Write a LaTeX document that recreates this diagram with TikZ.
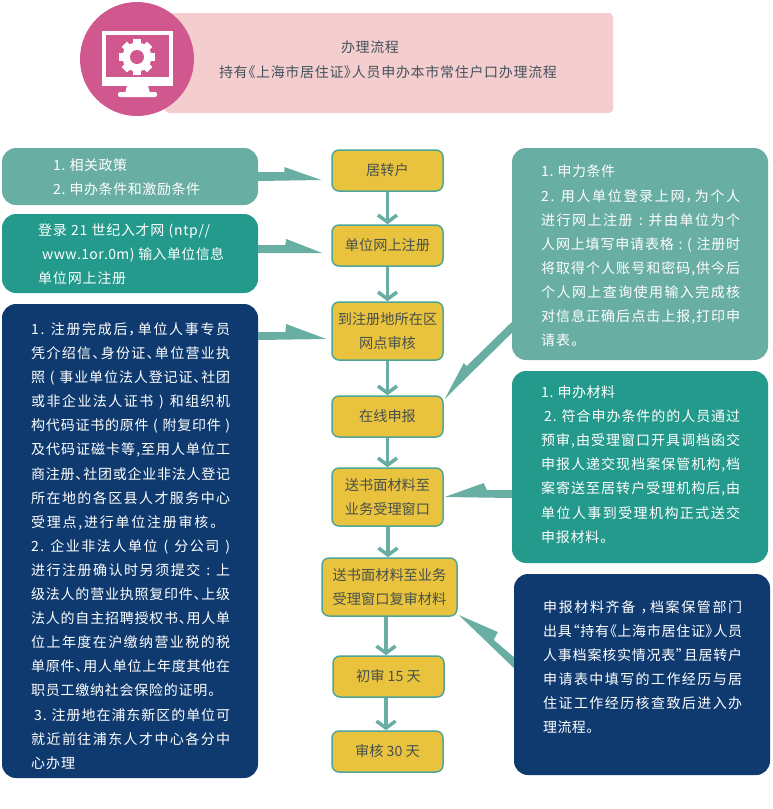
\documentclass[tikz,border=0pt]{standalone}
\usepackage{fontspec}
\setmainfont[RawFeature={+palt}]{Noto Sans CJK SC}
\usetikzlibrary{arrows.meta,calc}
\definecolor{cTealL}{HTML}{69AEA3}
\definecolor{cTealD}{HTML}{239A8C}
\definecolor{cNavy}{HTML}{0E3A70}
\definecolor{cPink}{HTML}{F4CECE}
\definecolor{cRose}{HTML}{D1588F}
\definecolor{cGold}{HTML}{EAC33E}
\definecolor{cEdge}{HTML}{4FA596}
\definecolor{cInk}{HTML}{46504C}
\definecolor{cHead}{HTML}{44525C}
\newcommand{\xsp}{\kern3pt}
\ExplSyntaxOn
\tl_new:N \l_spreadline_tl
\NewDocumentCommand{\fitline}{m m}{
  \tl_set:Nn \l_spreadline_tl {#2}
  \tl_replace_all:Nnn \l_spreadline_tl {~} {\xsp}
  \hbox to #1 {\tl_map_inline:Nn \l_spreadline_tl {##1\hfil}\hskip 0pt plus -1fil\relax}
}
\ExplSyntaxOff
\newcommand{\jl}[1]{\fitline{199pt}{#1}}
\newcommand{\wedgeArrow}[8]{%
  \fill[wedgefill] ($(#1)+#2$) -- ($(#4)+#6$) -- ($(#4)+#7$) -- ($(#4)+#8$) -- ($(#1)+#3$) -- cycle;}
\tikzset{
  x=1pt,y=-1pt,
  panel/.style={rounded corners=14pt,minimum width=#1,inner sep=0pt},
  stage/.style={draw=cEdge,fill=cGold,line width=1.5pt,rounded corners=7pt,inner sep=0pt,
    text=cInk,align=center,font=\fontsize{14.2}{24}\selectfont},
  paneltext/.style={text=white,align=left,inner sep=0pt,anchor=west,font=\fontsize{14}{24.1}\selectfont},
  headtext/.style={text=cHead,align=center,inner sep=0pt,font=\fontsize{14}{25}\selectfont},
  flow/.style={draw=cTealL,line width=3.5pt,-{Straight Barb[length=7pt,width=19pt]}},
  wedgefill/.style={fill=cTealL},
}
\begin{document}
\begin{tikzpicture}
\useasboundingbox (0,0) rectangle (772,809);
% header
\node[fill=cPink,rounded corners=4pt,minimum width=448pt,minimum height=100pt,inner sep=0pt] (hd) at (389,63) {};
\node[headtext] (hdt) at (388,59.5) {\hspace*{-36pt}\fitline{58pt}{办理流程}\\\fitline{338pt}{持有《上海市居住证》人员申办本市常住户口办理流程}};
\node[circle,fill=cRose,minimum size=114pt,inner sep=0pt] (ic) at (137,59) {};
\fill[white] (102,31) rectangle (173,86);
\fill[cRose] (106,35) rectangle (169,77);
\fill[white] (127,86) -- (148,86) -- (150,93) -- (125,93) -- cycle;
\fill[white,rounded corners=2pt] (118,92) rectangle (157,97);
\foreach \a in {0,45,...,315}{
  \fill[white,shift={(137,57)},rotate=\a] (-3.8,-18) rectangle (3.8,0);
}
\fill[white] (137,57) circle[radius=14.5pt];
\fill[cRose] (137,57) circle[radius=7pt];
% stages
\node[stage,minimum width=111pt,minimum height=41pt] (y1) at (387.5,170.5) {居转户};
\node[stage,minimum width=111pt,minimum height=41pt] (y2) at (387.5,245.5) {单位网上注册};
\node[stage,minimum width=111pt,minimum height=58pt] (y3) at (387.5,331) {到注册地所在区\\网点审核};
\node[stage,minimum width=111pt,minimum height=41pt] (y4) at (387.5,416.5) {在线申报};
\node[stage,minimum width=111pt,minimum height=58pt] (y5) at (387.5,497) {送书面材料至\\业务受理窗口};
\node[stage,minimum width=135pt,minimum height=58pt] (y6) at (389.5,587) {送书面材料至业务\\受理窗口复审材料};
\node[stage,minimum width=111pt,minimum height=41pt] (y7) at (388.5,676.5) {初审 15 天};
\node[stage,minimum width=111pt,minimum height=41pt] (y8) at (387.5,751.5) {审核 30 天};
\coordinate (axu) at (388,0);
\coordinate (axl) at (386,0);
\draw[flow] (y1) -- (y2);
\draw[flow] (y2) -- (y3);
\draw[flow] (y3) -- (y4);
\draw[flow] (y4) -- (y5);
\draw[flow] (axu |- y5.south) -- (axu |- y6.north);
\draw[flow] (axl |- y6.south) -- (axl |- y7.north);
\draw[flow] (axl |- y7.south) -- (axl |- y8.north);
% panels
\node[panel=256pt,fill=cTealL,minimum height=57pt] (l1) at (130,176.5) {};
\node[panel=256pt,fill=cTealD,minimum height=79pt] (l2) at (130,253.5) {};
\node[panel=256pt,fill=cNavy,minimum height=474pt] (l3) at (130,541) {};
\node[panel=256pt,fill=cTealL,minimum height=212pt] (r1) at (640,254) {};
\node[panel=256pt,fill=cTealD,minimum height=192pt] (r2) at (640,467) {};
\node[panel=256pt,fill=cNavy,minimum height=201pt] (r3) at (642,674.5) {};
% wedge connectors
\wedgeArrow{l1.east}{(0,-4.5)}{(0,4.5)}{y1.west}{}{(-47,1.5)}{(-47,-3.5)}{(-10,9.5)}
\wedgeArrow{l2.east}{(0,-8.5)}{(0,-0.5)}{y2.west}{}{(-46,-0.5)}{(-45,-6.5)}{(-9,7.5)}
\wedgeArrow{l3.east}{(0,-209)}{(0,-201)}{y3.west}{}{(-46,1)}{(-45,-7)}{(-5,8)}
\wedgeArrow{r1.west}{(0,68)}{(0,79)}{y4.east}{}{(23,-50.5)}{(20,-53.5)}{(1,-17.5)}
\wedgeArrow{r2.west}{(0,23)}{(0,31)}{y5.east}{}{(43,-7)}{(40,-14)}{(1,0)}
\wedgeArrow{r3.west}{(0,-17.5)}{(0,-6.5)}{y6.east}{}{(36,53)}{(40,45)}{(1,28)}
% panel texts
\node[paneltext] (l1t) at (53,177) {\fitline{74pt}{1. 相关政策}\\\fitline{147pt}{2. 申办条件和激励条件}};
\node[paneltext] (l2t) at (38,254.5) {\fitline{172pt}{登录 21 世纪入才网 (ntp//}\\\hspace*{4pt}\fitline{182pt}{www.1or.0m) 输入单位信息}\\\fitline{88pt}{单位网上注册}};
\node[paneltext] (l3t) at (31,546) {%
\jl{1. 注册完成后，单位人事专员}\\
\jl{凭介绍信、身份证、单位营业执}\\
\jl{照 ( 事业单位法人登记证、社团}\\
\jl{或非企业法人证书 ) 和组织机}\\
\jl{构代码证书的原件 ( 附复印件 )}\\
\jl{及代码证磁卡等,至用人单位工}\\
\jl{商注册、社团或企业非法人登记}\\
\jl{所在地的各区县人才服务中心}\\
\fitline{186pt}{受理点,进行单位注册审核。}\\
\jl{2. 企业非法人单位 ( 分公司 )}\\
\jl{进行注册确认时另须提交 : 上}\\
\jl{级法人的营业执照复印件、上级}\\
\jl{法人的自主招聘授权书、用人单}\\
\jl{位上年度在沪缴纳营业税的税}\\
\jl{单原件、用人单位上年度其他在}\\
\fitline{184pt}{职员工缴纳社会保险的证明。}\\
\hspace*{3pt}\fitline{196pt}{3. 注册地在浦东新区的单位可}\\
\jl{就近前往浦东人才中心各分中}\\
\fitline{44pt}{心办理}};
\node[paneltext] (r1t) at (541,256) {%
\fitline{74pt}{1. 申力条件}\\
\jl{2. 用人单位登录上网，为个人}\\
\jl{进行网上注册 : 并由单位为个}\\
\jl{人网上填写申请表格 : ( 注册时}\\
\jl{将取得个人账号和密码,供今后}\\
\jl{个人网上查询使用输入完成核}\\
\jl{对信息正确后点击上报,打印申}\\
\fitline{37pt}{请表。}};
\node[paneltext] (r2t) at (541,464.5) {%
\fitline{74pt}{1. 申办材料}\\
\hspace*{3pt}\fitline{196pt}{2. 符合申办条件的的人员通过}\\
\jl{预审,由受理窗口开具调档函交}\\
\jl{申报人递交现档案保管机构,档}\\
\jl{案寄送至居转户受理机构后,由}\\
\jl{单位人事到受理机构正式送交}\\
\fitline{66pt}{申报材料。}};
\node[paneltext] (r3t) at (543,667) {%
\jl{申报材料齐备 ，档案保管部门}\\
\jl{出具“持有《上海市居住证》人员}\\
\jl{人事档案核实情况表”且居转户}\\
\jl{申请表中填写的工作经历与居}\\
\jl{住证工作经历核查致后进入办}\\
\fitline{50pt}{理流程。}};
\end{tikzpicture}
\end{document}
